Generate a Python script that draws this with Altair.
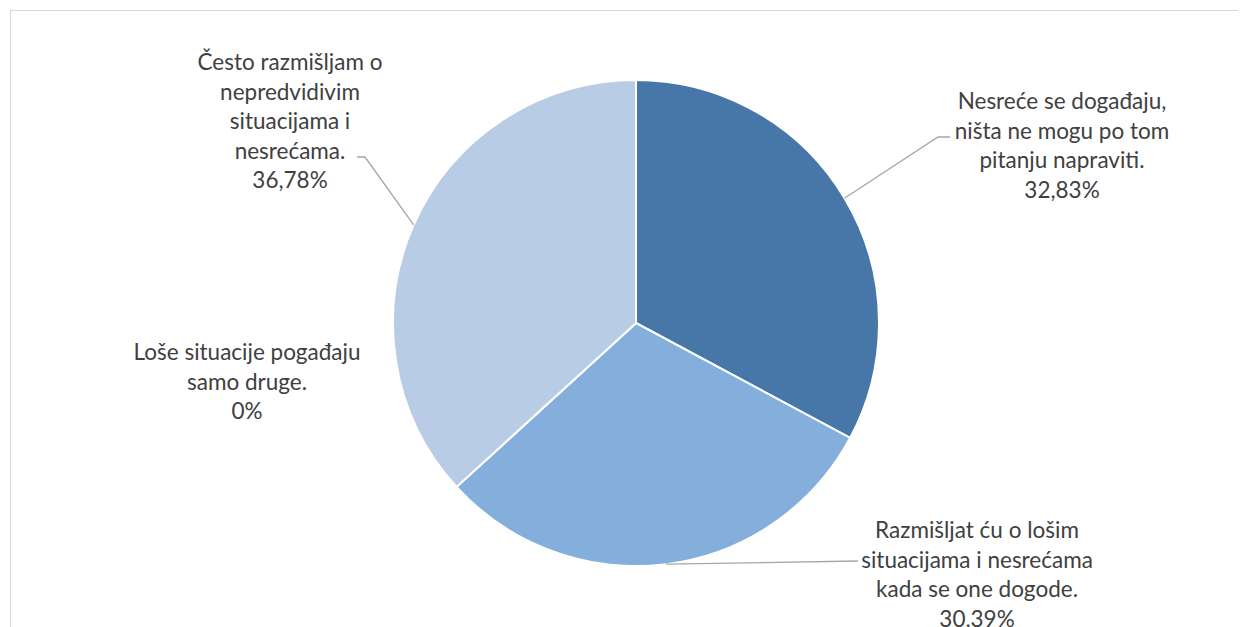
import math
import altair as alt
import pandas as pd

# ---- data ----
categories = [
    "Nesreće se događaju, ništa ne mogu po tom pitanju napraviti.",
    "Razmišljat ću o lošim situacijama i nesrećama kada se one dogode.",
    "Loše situacije pogađaju samo druge.",
    "Često razmišljam o nepredvidivim situacijama i nesrećama.",
]
values = [32.83, 30.39, 0.0, 36.78]
value_labels = ["32,83%", "30,39%", "0%", "36,78%"]
label_lines = [
    ["Nesreće se događaju,", "ništa ne mogu po tom", "pitanju napraviti."],
    ["Razmišljat ću o lošim", "situacijama i nesrećama", "kada se one dogode."],
    ["Loše situacije pogađaju", "samo druge."],
    ["Često razmišljam o", "nepredvidivim", "situacijama i", "nesrećama."],
]
colors = ["#4677A8", "#84AEDB", "#9DBBE0", "#B8CCE6"]

# ---- layout (view pixel coordinates; y = centre of first label line) ----
CX, CY, R = 626, 313, 243
label_pos = [(1052, 92), (967, 521), (237, 343), (280, 53)]
leader_knees = [[(928, 127), (940, 127)], [(848, 551)], [], [(355, 147), (347, 147)]]

df = pd.DataFrame({"cat": categories, "value": values, "idx": range(len(values))})

# leader lines: start at the slice edge at its mid angle
rows = []
cum = 0.0
for i, v in enumerate(values):
    mid = cum + v / 2
    cum += v
    if not leader_knees[i]:
        continue
    a = mid / 100 * 2 * math.pi
    pts = [(CX + R * math.sin(a), CY - R * math.cos(a))] + leader_knees[i]
    for k, (px, py) in enumerate(pts):
        rows.append({"cat": categories[i], "k": k, "px": px, "py": py})
lead_df = pd.DataFrame(rows)

lab_df = pd.DataFrame({
    "text": ["\n".join(lines + [vl]) for lines, vl in zip(label_lines, value_labels)],
    "px": [p[0] for p in label_pos],
    "py": [p[1] for p in label_pos],
})

pie = alt.Chart(df).mark_arc(outerRadius=R, stroke="white", strokeWidth=2).encode(
    theta=alt.Theta("value:Q", stack=True),
    color=alt.Color("cat:N", scale=alt.Scale(domain=categories, range=colors), legend=None),
    order=alt.Order("idx:Q"),
    x=alt.value(CX),
    y=alt.value(CY),
)

leaders = alt.Chart(lead_df).mark_line(color="#A6A6A6", strokeWidth=1.3).encode(
    x=alt.X("px:Q", scale=None, axis=None),
    y=alt.Y("py:Q", scale=None, axis=None),
    detail="cat:N",
    order="k:Q",
)

labels = alt.Chart(lab_df).mark_text(
    lineBreak="\n", align="center", baseline="middle",
    font="Lato", fontSize=22.5, lineHeight=29.5, color="#404040",
).encode(
    x=alt.X("px:Q", scale=None, axis=None),
    y=alt.Y("py:Q", scale=None, axis=None),
    text="text:N",
)

chart = alt.layer(pie, leaders, labels).properties(
    width=1228, height=650,
    autosize=alt.AutoSizeParams(type="none"),
    padding={"left": 2, "top": 2, "right": 0, "bottom": 0},
).configure_view(stroke="#D9D9D9", strokeWidth=1)

chart.save("out.html", embed_options={"renderer": "svg", "actions": False})
